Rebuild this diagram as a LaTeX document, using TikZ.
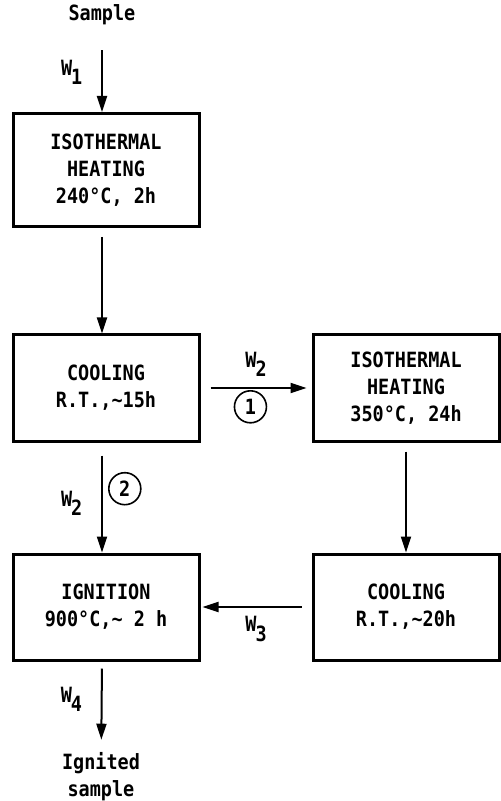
\documentclass[tikz,border=0pt]{standalone}
\usepackage{fontspec}
\usetikzlibrary{arrows.meta,positioning}
\newfontfamily\typefont[FakeStretch=0.88]{DejaVu Sans Mono}
\newcommand{\wlabel}[1]{W\kern-0.5pt\raisebox{-0.8ex}{#1}}

\begin{document}
\begin{tikzpicture}[
  x=0.5pt, y=-0.5pt,
  font=\typefont\bfseries\fontsize{10.5}{13.5}\selectfont,
  stepbox/.style={rectangle, draw, line width=1.5pt, minimum width=93pt, minimum height=53pt, align=center, inner sep=2pt},
  arrow/.style={-{Triangle[length=8pt,width=5pt]}, line width=1pt},
  numcircle/.style={circle, draw, line width=0.8pt, minimum size=16pt, inner sep=0pt},
  endtext/.style={align=center}
]
\useasboundingbox (0,0) rectangle (500,801);
% process boxes
\node[stepbox, minimum height=56.5pt] (heat1) at (106,170) {ISOTHERMAL\\HEATING\\240°C, 2h};
\node[stepbox] (cool1) at (106,388) {COOLING\\R.T.,\textasciitilde15h};
\node[stepbox] (heat2) at (406,388) {ISOTHERMAL\\HEATING\\350°C, 24h};
\node[stepbox] (ignite) at (106,607) {IGNITION\\900°C,\textasciitilde{} 2 h};
\node[stepbox] (cool2) at (406,607) {COOLING\\R.T.,\textasciitilde20h};
% start and end
\node[endtext] (sample) at (102,15) {Sample};
\node[endtext] (product) at (101,777) {Ignited\\ sample};
% left column
\draw[arrow, shorten <=9pt] (sample) -- (sample |- heat1.north)
  node[pos=0.5, left=6pt] (w1) {\wlabel{1}};
\draw[arrow, shorten <=4.5pt] (sample |- heat1.south) -- (sample |- cool1.north);
\draw[arrow, shorten <=6.5pt] (sample |- cool1.south) -- (sample |- ignite.north)
  node[pos=0.55, left=6pt] (w2b) {\wlabel{2}}
  node[pos=0.42, right=3pt, numcircle] (route2) {2};
\draw[arrow, shorten <=3.5pt, shorten >=3pt] (sample |- ignite.south) -- (product)
  node[pos=0.45, left=6pt] (w4) {\wlabel{4}};
% right column
\draw[arrow, shorten <=5pt, shorten >=2.5pt] (cool1.east) -- (heat2.west)
  node[midway, above=2pt] (w2a) {\wlabel{2}}
  node[pos=0.45, below=1pt, numcircle] (route1) {1};
\draw[arrow, shorten <=4.5pt] (heat2.south) -- (cool2.north);
\draw[arrow, shorten <=5pt, shorten >=1pt] (cool2.west) -- (ignite.east)
  node[midway, below=1pt] (w3) {\wlabel{3}};
\end{tikzpicture}
\end{document}
